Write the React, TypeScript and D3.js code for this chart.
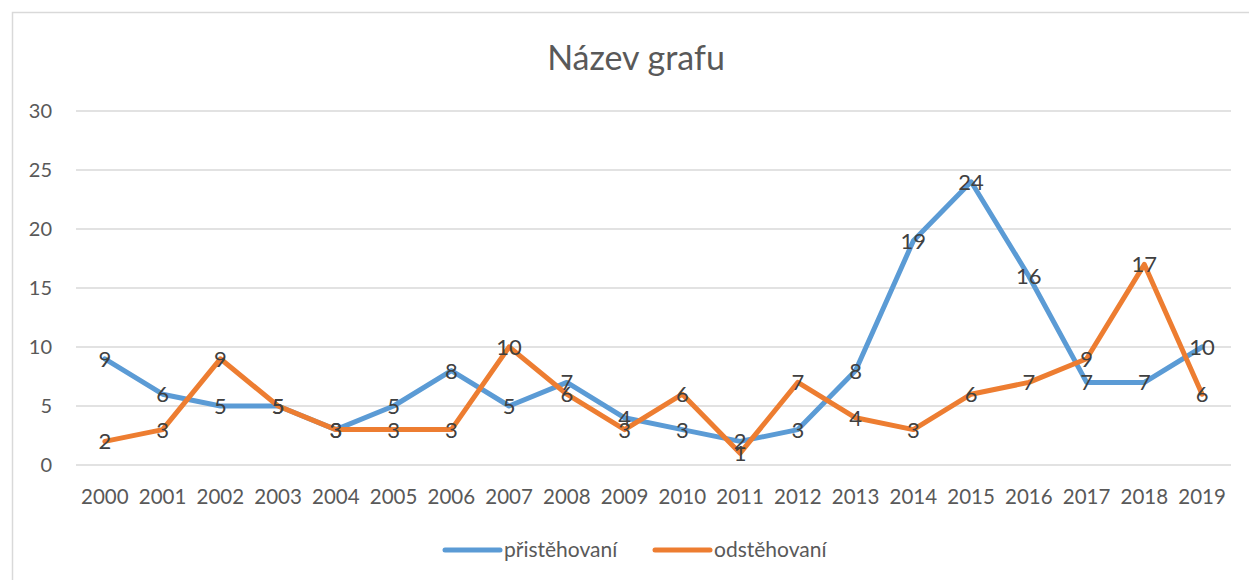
import React, { useEffect, useRef } from 'react';
import * as d3 from 'd3';

const years = ['2000','2001','2002','2003','2004','2005','2006','2007','2008','2009','2010','2011','2012','2013','2014','2015','2016','2017','2018','2019'];
const prist = [9,6,5,5,3,5,8,5,7,4,3,2,3,8,19,24,16,7,7,10];
const odst = [2,3,9,5,3,3,3,10,6,3,6,1,7,4,3,6,7,9,17,6];
const yTicks = [0,5,10,15,20,25,30];
const seriesNames = ['přistěhovaní','odstěhovaní'];
const colors = ['#5B9BD5','#ED7D31'];

const W = 1249, H = 580;
const FONT = 'Lato, "Open Sans", sans-serif';

export default function App() {
  const ref = useRef<SVGSVGElement>(null);

  useEffect(() => {
    const svg = d3.select(ref.current);
    svg.selectAll('*').remove();

    // chart frame
    svg.append('rect').attr('x', 12.5).attr('y', 12.5).attr('width', W).attr('height', H)
      .attr('fill', '#fff').attr('stroke', '#D9D9D9').attr('stroke-width', 1.5);

    var margin = {left: 76, right: 1231, top: 111, bottom: 465};
    var x = d3.scaleBand().domain(years).range([margin.left, margin.right]);
    var y = d3.scaleLinear().domain([0, 30]).range([margin.bottom, margin.top]);

    svg.append('text').attr('x', 636).attr('y', 70).attr('text-anchor', 'middle')
      .attr('font-family', FONT).attr('font-size', 34).attr('fill', '#595959')
      .text('Název grafu');

    //gridlines + y labels
    var g = svg.append('g');
    g.selectAll('line.grid').data(yTicks).enter().append('line')
      .attr('x1', margin.left).attr('x2', margin.right)
      .attr('y1', d => y(d)).attr('y2', d => y(d))
      .attr('stroke', '#D9D9D9').attr('stroke-width', 1.5);
    g.selectAll('text.yl').data(yTicks).enter().append('text')
      .attr('x', 52).attr('y', d => y(d)).attr('dy', '0.35em')
      .attr('text-anchor', 'end').attr('font-family', FONT).attr('font-size', 20)
      .attr('fill', '#595959').text(d => d);

    g.selectAll('text.xl').data(years).enter().append('text')
      .attr('x', d => x(d)! + x.bandwidth() / 2).attr('y', 497).attr('dy', '0.35em')
      .attr('text-anchor', 'middle').attr('font-family', FONT).attr('font-size', 20.5)
      .attr('fill', '#595959').text(d => d);

    var line = d3.line<number>()
      .x((d, i) => x(years[i])! + x.bandwidth() / 2)
      .y(d => y(d));

    [prist, odst].forEach((vals, si) => {
      svg.append('path').datum(vals).attr('d', line).attr('fill', 'none')
        .attr('stroke', colors[si]).attr('stroke-width', 5)
        .attr('stroke-linejoin', 'round').attr('stroke-linecap', 'round');
    });
    [prist, odst].forEach((vals) => {
      svg.append('g').selectAll('text').data(vals).enter().append('text')
        .attr('x', (d, i) => x(years[i])! + x.bandwidth() / 2)
        .attr('y', d => y(d)).attr('dy', '0.36em')
        .attr('text-anchor', 'middle').attr('font-family', FONT).attr('font-size', 22)
        .attr('fill', '#404040').text(d => d);
    });

    // legend
    var legX = [445, 655];
    seriesNames.forEach((n, i) => {
      svg.append('line').attr('x1', legX[i]).attr('x2', legX[i] + 55)
        .attr('y1', 550).attr('y2', 550).attr('stroke', colors[i])
        .attr('stroke-width', 5).attr('stroke-linecap', 'round');
      svg.append('text').attr('x', legX[i] + 59).attr('y', 550).attr('dy', '0.35em')
        .attr('font-family', FONT).attr('font-size', 21).attr('fill', '#595959').text(n);
    });
  }, []);

  return (
    <div style={{position: 'absolute', left: 0, top: 0}}>
      <svg ref={ref} width={W} height={H} style={{display: 'block'}}></svg>
    </div>
  );
}
